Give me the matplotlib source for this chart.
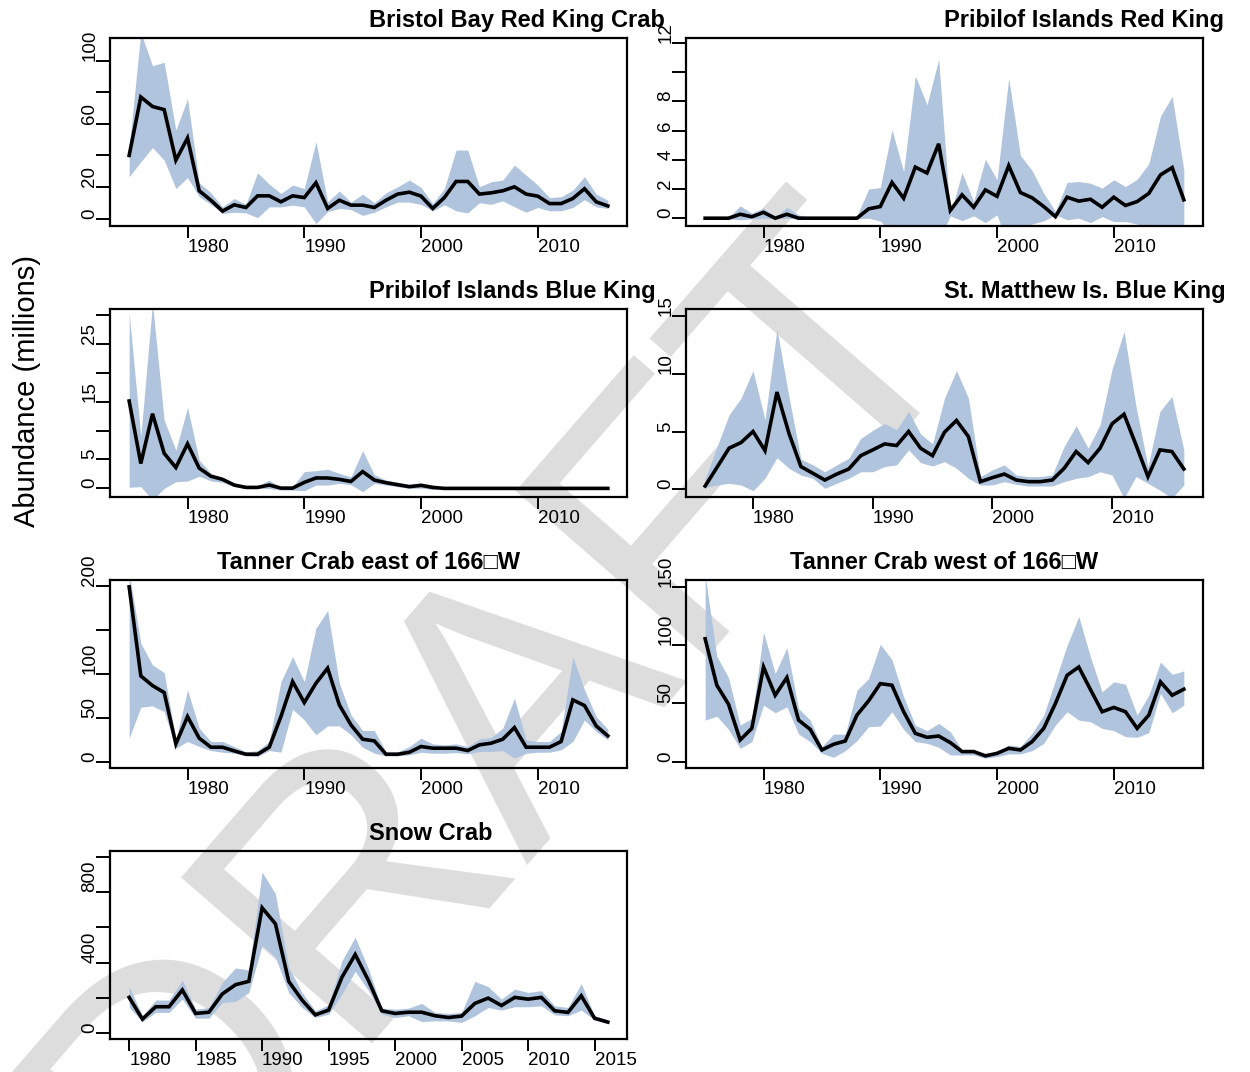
import matplotlib
matplotlib.use("Agg")
import matplotlib.pyplot as plt

plt.rcParams['font.family'] = ['Liberation Sans', 'DejaVu Sans']

years = list(range(1975, 2017))
years_smbkc = list(range(1976, 2017))
years_snow = list(range(1980, 2017))

# Bristol Bay Red King Crab
bbrkc_est = [40, 77, 71, 69, 37, 51, 17.6, 11.6, 4.7, 8.7, 7, 14.4, 14.4, 10.6, 14.4, 13.3,
             22.7, 6.4, 11.6, 8.5, 8.5, 7, 11.6, 15.5, 16.7, 14.2, 6.4, 13.3, 23.5, 23.5,
             15.5, 16.3, 17.6, 20.1, 15.5, 14.2, 9.5, 9.5, 12.7, 18.9, 10.6, 8]
bbrkc_hi = [45, 118, 96.8, 99, 56, 76, 22.7, 16.3, 7.4, 12.7, 9, 29, 21.8, 15.9, 21.2, 19,
            48.7, 10.6, 17.4, 10.4, 15.5, 10, 16.3, 20.1, 24.4, 19.7, 9.5, 19, 43.4, 43.4,
            20.1, 23.3, 24.4, 33.9, 27.5, 21.2, 13.3, 13.8, 18, 26.5, 15.5, 11.6]
bbrkc_lo = [26.5, 36, 45, 37, 19, 26, 13.8, 9, 3.2, 4, 3.6, 0.6, 7.4, 7.4, 8.5, 7.4,
            -3.2, 4.4, 6.4, 5.7, 2, 4, 7.4, 10.4, 10.4, 9, 4.9, 8.7, 4.9, 3.6,
            10, 9, 11.2, 7.4, 4, 7, 4.9, 4.9, 7, 12, 7.4, 6.4]

# Pribilof Islands Red King Crab
pirkc_est = [0, 0, 0, 0.27, 0.1, 0.4, 0, 0.27, 0, 0, 0, 0, 0, 0, 0.64, 0.8, 2.45, 1.37,
             3.5, 3.1, 5.1, 0.53, 1.6, 0.75, 1.94, 1.5, 3.6, 1.76, 1.4, 0.8, 0.11, 1.44,
             1.17, 1.3, 0.75, 1.44, 0.87, 1.14, 1.7, 2.97, 3.47, 1.26]
pirkc_hi = [0.05, 0.05, 0.05, 0.85, 0.34, 0.7, 0.07, 0.75, 0.23, 0.05, 0.05, 0.05, 0.05,
            0.16, 2.0, 2.1, 6.06, 3.2, 9.76, 7.77, 10.9, 0.23, 3.13, 1.14, 4.05, 2.63,
            9.6, 4.3, 3.27, 1.71, 0.46, 2.45, 2.51, 2.4, 2.06, 2.63, 2.17, 2.67, 3.73,
            7.0, 8.34, 3.3]
pirkc_lo = [-0.05, -0.05, -0.05, -0.1, -0.05, 0, -0.05, 0, -0.05, -0.05, -0.05, -0.05,
            -0.05, -0.05, 0, -0.2, -1.0, -0.8, -1.5, -1.2, -1.5, 0.16, -0.16, 0.16, -0.3,
            0.23, -2, -0.6, -0.4, -0.18, 0.23, -0.11, 0, -0.3, 0.11, -0.23, -0.23, -0.4,
            -1, -1, -1.5, -0.7]

# Pribilof Islands Blue King Crab
pibkc_est = [15.1, 4.3, 12.9, 6.06, 3.6, 7.7, 3.5, 2.1, 1.56, 0.58, 0.17, 0.17, 0.58, 0.05,
             0.05, 1.04, 1.8, 1.8, 1.56, 1.2, 2.9, 1.44, 0.98, 0.63, 0.3, 0.52, 0.17,
             0, 0, 0, 0, 0, 0, 0, 0, 0, 0, 0, 0, 0, 0, 0]
pibkc_hi = [30.3, 9.0, 32, 11.8, 6.6, 14, 4.9, 2.6, 1.9, 0.87, 0.4, 0.4, 1.44, 0.17, 0.3,
            2.9, 3.06, 3.3, 2.6, 2.0, 6.5, 2.37, 1.44, 1.1, 0.7, 0.98, 0.58, 0.1, 0.1, 0.1,
            0.1, 0.1, 0.1, 0.1, 0.1, 0.1, 0.1, 0.3, 0.1, 0.1, 0.1, 0.1]
pibkc_lo = [0.2, 0.3, -2, 0, 1.15, 1.27, 2.1, 1.3, 1.04, 0.3, 0, 0, 0, -0.3, -0.3, -0.4,
            0.58, 0.58, 0.87, 0.63, -0.58, 0.87, 0.58, 0.29, 0, 0.06, -0.17, -0.05, -0.05,
            -0.05, -0.05, -0.05, -0.05, -0.05, -0.05, -0.05, -0.05, -0.05, -0.05, -0.05,
            -0.05, -0.05]

# St. Matthew Island Blue King Crab (1976-2016)
smbkc_est = [0.26, 1.9, 3.55, 4.04, 5.0, 3.34, 8.43, 4.85, 1.95, 1.37, 0.78, 1.3, 1.74,
             2.9, 3.4, 3.92, 3.78, 5.0, 3.55, 2.9, 4.94, 5.96, 4.56, 0.64, 0.99, 1.3, 0.78,
             0.64, 0.64, 0.78, 1.8, 3.26, 2.3, 3.55, 5.67, 6.5, 3.84, 1.08, 3.4, 3.26, 1.74]
smbkc_hi = [0.93, 3.7, 6.45, 7.9, 10.3, 6.0, 13.9, 8.05, 2.6, 2.1, 1.5, 2.1, 2.67, 4.4,
            5.1, 5.7, 5.15, 6.74, 4.8, 3.92, 7.9, 10.3, 7.9, 1.08, 1.66, 2.1, 1.22, 1.08,
            1.08, 1.22, 3.7, 5.5, 3.55, 5.58, 10.4, 13.7, 7.2, 1.95, 6.74, 8.05, 3.4]
smbkc_lo = [0.15, 0.35, 0.5, 0.35, -0.15, 0.93, 2.73, 1.8, 1.22, 0.93, 0.06, 0.5, 0.93,
            1.5, 1.5, 1.95, 2.1, 3.4, 2.3, 2.0, 2.38, 1.8, 0.93, 0.35, 0.35, 0.64, 0.4,
            0.26, 0.26, 0.26, 0.64, 0.93, 1.08, 1.5, 1.22, -0.8, 1.08, 0.5, -0.1, -0.8,
            0.35]

# Tanner Crab east of 166W
tce_est = [199, 97.5, 86.5, 78.6, 20.1, 51.2, 26.6, 16.3, 16.3, 12.1, 8.3, 8.3, 16.3, 51.2,
           91, 67.2, 89.2, 106.3, 64.5, 41.7, 25.4, 23.5, 8.3, 8.3, 10.6, 17.1, 15.2, 15.2,
           15.2, 12.5, 19, 20.9, 25.4, 38.7, 16.3, 16.3, 16.3, 22.8, 70.2, 63.8, 40.6, 29.2]
tce_hi = [215, 134.7, 110, 101.3, 24.7, 81.6, 38, 22.8, 22.8, 17.1, 11, 12.5, 22.8, 91,
          119.5, 91, 151.8, 172, 89.2, 53.1, 35.3, 35.3, 11, 11, 17.1, 26.6, 20.1, 19,
          20.1, 17.1, 25.8, 27.3, 38, 72.1, 24.7, 22.8, 22.8, 34.2, 119.5, 81.6, 51.2, 36.8]
tce_lo = [26.6, 61.9, 63.4, 56.9, 15.2, 22.8, 17.1, 12.5, 10.6, 9.5, 6.5, 5.7, 12.5, 10.6,
          59.6, 47.4, 30.4, 40.6, 40.6, 30.4, 16.3, 9.5, 6.5, 6.5, 7.6, 10.6, 9.5, 9.5,
          10.2, 8.7, 11.4, 11.4, 12.5, 3.8, 9.5, 10.6, 10.6, 13.3, 22.8, 47.4, 34.2, 24.7]

# Tanner Crab west of 166W
tcw_est = [105.7, 65.7, 49.4, 18.6, 28.6, 81.4, 57.1, 72.3, 35.7, 27.7, 10, 14.9, 17.7, 40,
           52.3, 67.1, 65.7, 42.9, 24.3, 20.9, 22, 16.3, 8.6, 8.6, 4.9, 7.1, 11.4, 10, 17.1,
           28.6, 50, 74.3, 81.4, 62, 42.9, 46.6, 42.9, 28.6, 40, 68.6, 57.1, 62.3]
tcw_hi = [160, 90.6, 72.3, 31.4, 37.1, 111.4, 75.7, 98, 45.7, 35.7, 12.9, 23.7, 23.7, 61.4,
          71.4, 100.9, 87.7, 55.7, 31.4, 26.6, 32.9, 25.7, 10, 10, 7.1, 7.7, 14.3, 12.9, 24.3,
          40, 70, 100, 124.9, 90, 60, 68.6, 66.6, 40, 57.1, 85.7, 75.1, 78]
tcw_lo = [35.7, 39.1, 27.7, 11.4, 17.1, 48.6, 42, 47.1, 23.7, 17.1, 7.1, 3.7, 9.4, 18, 30,
          30.6, 42.9, 27.7, 17.1, 15.7, 12.3, 5.7, 5.7, 5.7, 2.9, 4.3, 6.6, 6.6, 9.4, 15.7,
          31.4, 42.9, 35.7, 34.3, 28.6, 26.6, 21.4, 20.9, 24.9, 58.6, 42, 48.6]

# Snow Crab (1980-2016)
snow_est = [203, 80, 150, 150, 245, 112, 119, 222, 275, 294, 711, 620, 294, 188, 104, 131,
            317, 446, 298, 127, 112, 119, 119, 99, 89, 97, 169, 199, 157, 203, 193, 203,
            127, 118, 212, 85, 63]
snow_hi = [264, 99, 188, 188, 301, 136, 146, 288, 370, 358, 914, 790, 373, 231, 127, 161,
           411, 544, 364, 142, 136, 142, 169, 118, 112, 118, 294, 264, 193, 250, 231, 241,
           155, 146, 282, 99, 74]
snow_lo = [146, 66, 118, 118, 193, 85, 85, 174, 180, 231, 497, 430, 231, 146, 89, 108,
           222, 351, 241, 108, 89, 99, 66, 70, 70, 61, 99, 146, 131, 150, 150, 155,
           104, 99, 131, 74, 55]

band_col = '#B0C4DE'
W, H = 1250, 1072

fig = plt.figure(figsize=(12.5, 10.72), dpi=100)

# watermark, drawn behind the panels
fig.text(0.40, 0.33, 'DRAFT', rotation=49, fontsize=265, color='#dddddd',
         ha='center', va='center', zorder=-10)

col_x = [110 / W, 686 / W]
row_top = [38, 309, 580, 851]
aw, ah = 517 / W, 187.5 / H

panels = [
    dict(title='Bristol Bay Red King Crab', x=years, est=bbrkc_est, lo=bbrkc_lo, hi=bbrkc_hi,
         ylim=(-4.4, 114.4), yt=[0, 20, 40, 60, 80, 100], yl=['0', '20', '', '60', '', '100'],
         row=0, col=0, tpos='left'),
    dict(title='Pribilof Islands Red King', x=years, est=pirkc_est, lo=pirkc_lo, hi=pirkc_hi,
         ylim=(-0.5, 12.35), yt=[0, 2, 4, 6, 8, 10, 12], yl=['0', '2', '4', '6', '8', '', '12'],
         row=0, col=1, tpos='left'),
    dict(title='Pribilof Islands Blue King', x=years, est=pibkc_est, lo=pibkc_lo, hi=pibkc_hi,
         ylim=(-1.4, 31.0), yt=[0, 5, 10, 15, 20, 25, 30], yl=['0', '5', '', '15', '', '25', ''],
         row=1, col=0, tpos='left'),
    dict(title='St. Matthew Is. Blue King', x=years_smbkc, est=smbkc_est, lo=smbkc_lo, hi=smbkc_hi,
         ylim=(-0.65, 15.65), yt=[0, 5, 10, 15], yl=['0', '5', '10', '15'],
         row=1, col=1, tpos='left'),
    dict(title='Tanner Crab east of 166\u25a1W', x=years, est=tce_est, lo=tce_lo, hi=tce_hi,
         ylim=(-6.8, 206.8), yt=[0, 50, 100, 150, 200], yl=['0', '50', '100', '', '200'],
         row=2, col=0, tpos='center'),
    dict(title='Tanner Crab west of 166\u25a1W', x=years, est=tcw_est, lo=tcw_lo, hi=tcw_hi,
         ylim=(-5.1, 156.3), yt=[0, 50, 100, 150], yl=['0', '50', '100', '150'],
         row=2, col=1, tpos='center'),
    dict(title='Snow Crab', x=years_snow, est=snow_est, lo=snow_lo, hi=snow_hi,
         ylim=(-30, 1033), yt=[0, 200, 400, 600, 800, 1000], yl=['0', '', '400', '', '800', ''],
         row=3, col=0, tpos='left'),
]

for p in panels:
    bottom = 1 - (row_top[p['row']] + 187.5) / H
    ax = fig.add_axes([col_x[p['col']], bottom, aw, ah])
    ax.set_facecolor('none')
    ax.fill_between(p['x'], p['lo'], p['hi'], color=band_col, lw=0, zorder=2)
    ax.plot(p['x'], p['est'], color='black', lw=2.6, zorder=3, solid_joinstyle='miter')

    x0, x1 = p['x'][0], p['x'][-1]
    ext = 0.04 * (x1 - x0)
    ax.set_xlim(x0 - ext, x1 + ext)
    ax.set_ylim(*p['ylim'])

    if p['title'] == 'Snow Crab':
        xt = list(range(1980, 2016, 5))
    else:
        xt = [1980, 1990, 2000, 2010]
    ax.set_xticks(xt, [str(v) for v in xt])
    ax.set_yticks(p['yt'], p['yl'])

    for s in ax.spines.values():
        s.set_linewidth(1.6)
    ax.tick_params(axis='x', length=8.5, width=1.4, pad=1, labelsize=13.5, direction='out')
    ax.tick_params(axis='y', length=10, width=1.4, pad=-1.5, labelsize=13.5, direction='out')
    for lab in ax.get_xticklabels():
        lab.set_ha('left')
    for lab in ax.get_yticklabels():
        lab.set_rotation(90)
        lab.set_va('bottom')
        lab.set_ha('right')

    ax.annotate(p['title'], xy=(0.5, 1.0), xycoords='axes fraction',
                xytext=(0, 8), textcoords='offset points',
                ha=p['tpos'], va='baseline', fontsize=17, fontweight='bold',
                annotation_clip=False)

fig.text(27 / W, 1 - 391 / H, 'Abundance (millions)', rotation=90, fontsize=21,
         ha='center', va='center')

fig.savefig('out.png', dpi=100)
